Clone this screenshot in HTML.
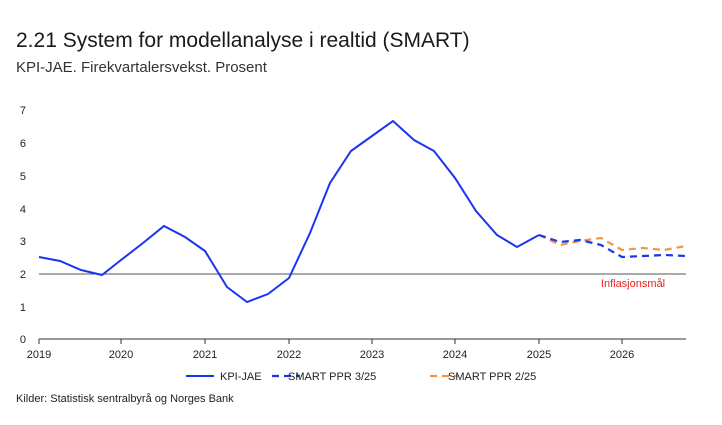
<!DOCTYPE html>
<html><head><meta charset="utf-8"><style>
body{margin:0;background:#fff;width:722px;height:420px;overflow:hidden;font-family:"Liberation Sans",sans-serif;}
</style></head><body>
<svg width="722" height="420" xmlns="http://www.w3.org/2000/svg" font-family="Liberation Sans, sans-serif">
<text x="16" y="47" font-size="21" fill="#1a1a1a">2.21 System for modellanalyse i realtid (SMART)</text>
<text x="16" y="72" font-size="15" fill="#333">KPI-JAE. Firekvartalersvekst. Prosent</text>
<g font-size="11" fill="#222" text-anchor="end">
<text x="26" y="114">7</text><text x="26" y="147">6</text><text x="26" y="180">5</text><text x="26" y="213">4</text>
<text x="26" y="245">3</text><text x="26" y="278">2</text><text x="26" y="311">1</text><text x="26" y="343">0</text>
</g>
<line x1="39" y1="274" x2="686" y2="274" stroke="#555" stroke-width="1"/>
<line x1="39" y1="339" x2="686" y2="339" stroke="#333" stroke-width="1"/>
<g stroke="#333">
<line x1="39" y1="339" x2="39" y2="344"/><line x1="121" y1="339" x2="121" y2="344"/><line x1="205" y1="339" x2="205" y2="344"/>
<line x1="289" y1="339" x2="289" y2="344"/><line x1="372" y1="339" x2="372" y2="344"/><line x1="455" y1="339" x2="455" y2="344"/>
<line x1="539" y1="339" x2="539" y2="344"/><line x1="622" y1="339" x2="622" y2="344"/>
</g>
<g font-size="11" fill="#222" text-anchor="middle">
<text x="39" y="358">2019</text><text x="121" y="358">2020</text><text x="205" y="358">2021</text><text x="289" y="358">2022</text>
<text x="372" y="358">2023</text><text x="455" y="358">2024</text><text x="539" y="358">2025</text><text x="622" y="358">2026</text>
</g>
<text x="633" y="287" font-size="11" fill="#e8241a" text-anchor="middle">Inflasjonsmål</text>
<polyline fill="none" stroke="#f0964a" stroke-width="2.2" stroke-dasharray="7,5" points="539,235 560,245 580,241 601,238 622,250 643,248 664,250 686,246"/>
<polyline fill="none" stroke="#1a35f0" stroke-width="2.2" stroke-dasharray="7,5" points="539,235 560,242 580,240 601,245 622,257 643,256 664,255 686,256"/>
<polyline fill="none" stroke="#1a35f0" stroke-width="2" points="39,257 60,261 81,270 102,275 121,260 143,243 164,226 185,237 205,251 227,287 247,302 268,294 289,278 310,233 330,183 351,151 372,136 393,121 414,140 434,151 455,178 476,211 497,235 517,247 539,235"/>
<line x1="186" y1="376" x2="214" y2="376" stroke="#1a35f0" stroke-width="2"/>
<text x="220" y="380" font-size="11" fill="#222">KPI-JAE</text>
<line x1="272" y1="376" x2="300" y2="376" stroke="#1a35f0" stroke-width="2.2" stroke-dasharray="7,5"/>
<text x="288" y="380" font-size="11" fill="#222">SMART PPR 3/25</text>
<line x1="430" y1="376" x2="458" y2="376" stroke="#f0964a" stroke-width="2.2" stroke-dasharray="7,5"/>
<text x="448" y="380" font-size="11" fill="#222">SMART PPR 2/25</text>
<text x="16" y="402" font-size="11" fill="#222">Kilder: Statistisk sentralbyrå og Norges Bank</text>
</svg>
</body></html>
